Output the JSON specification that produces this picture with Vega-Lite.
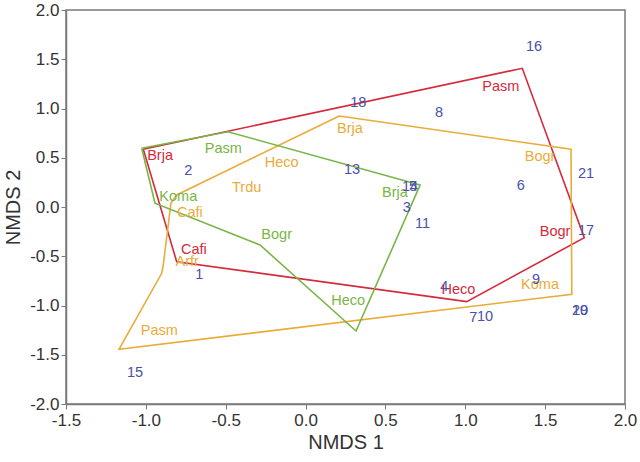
{
  "$schema": "https://vega.github.io/schema/vega-lite/v6.json",
  "width": 559,
  "height": 394,
  "autosize": {"type": "none"},
  "padding": {"left": 66, "top": 10, "right": 15, "bottom": 58},
  "background": "white",
  "config": {
    "view": {"stroke": "#7a7a7a", "strokeWidth": 1.5},
    "font": "Liberation Sans"
  },
  "datasets": {
    "hulls": [
      {"g": "red", "o": 1, "x": -1.016, "y": 0.586},
      {"g": "red", "o": 2, "x": 1.357, "y": 1.408},
      {"g": "red", "o": 3, "x": 1.745, "y": -0.312},
      {"g": "red", "o": 4, "x": 1.009, "y": -0.961},
      {"g": "red", "o": 5, "x": -0.807, "y": -0.555},
      {"g": "red", "o": 6, "x": -1.016, "y": 0.586},
      {"g": "orange", "o": 1, "x": 0.211, "y": 0.924},
      {"g": "orange", "o": 2, "x": -0.807, "y": 0.122},
      {"g": "orange", "o": 3, "x": -0.843, "y": 0.038},
      {"g": "orange", "o": 4, "x": -0.891, "y": -0.589},
      {"g": "orange", "o": 5, "x": -0.901, "y": -0.673},
      {"g": "orange", "o": 6, "x": -1.168, "y": -1.445},
      {"g": "orange", "o": 7, "x": 1.667, "y": -0.886},
      {"g": "orange", "o": 8, "x": 1.662, "y": 0.586},
      {"g": "orange", "o": 9, "x": 0.211, "y": 0.924},
      {"g": "green", "o": 1, "x": -1.026, "y": 0.596},
      {"g": "green", "o": 2, "x": -0.486, "y": 0.764},
      {"g": "green", "o": 3, "x": 0.717, "y": 0.223},
      {"g": "green", "o": 4, "x": 0.316, "y": -1.259},
      {"g": "green", "o": 5, "x": -0.285, "y": -0.386},
      {"g": "green", "o": 6, "x": -0.943, "y": 0.038},
      {"g": "green", "o": 7, "x": -1.026, "y": 0.596}
    ],
    "labels": [
      {"g": "red", "t": "Brja", "x": -0.911, "y": 0.518},
      {"g": "red", "t": "Pasm", "x": 1.222, "y": 1.215},
      {"g": "red", "t": "Cafi", "x": -0.699, "y": -0.437},
      {"g": "red", "t": "Bogr", "x": 1.562, "y": -0.251},
      {"g": "red", "t": "Heco", "x": 0.957, "y": -0.843},
      {"g": "orange", "t": "Brja", "x": 0.278, "y": 0.789},
      {"g": "orange", "t": "Heco", "x": -0.15, "y": 0.45},
      {"g": "orange", "t": "Trdu", "x": -0.369, "y": 0.19},
      {"g": "orange", "t": "Cafi", "x": -0.724, "y": -0.058},
      {"g": "orange", "t": "Arfr", "x": -0.741, "y": -0.555},
      {"g": "orange", "t": "Pasm", "x": -0.916, "y": -1.259},
      {"g": "orange", "t": "Bogr", "x": 1.468, "y": 0.511},
      {"g": "orange", "t": "Koma", "x": 1.468, "y": -0.792},
      {"g": "green", "t": "Pasm", "x": -0.515, "y": 0.586},
      {"g": "green", "t": "Koma", "x": -0.797, "y": 0.105},
      {"g": "green", "t": "Bogr", "x": -0.181, "y": -0.284},
      {"g": "green", "t": "Heco", "x": 0.267, "y": -0.951},
      {"g": "green", "t": "Brja", "x": 0.56, "y": 0.145},
      {"g": "blue", "t": "1", "x": -0.665, "y": -0.69},
      {"g": "blue", "t": "2", "x": -0.734, "y": 0.368},
      {"g": "blue", "t": "3", "x": 0.633, "y": -0.013},
      {"g": "blue", "t": "4", "x": 0.869, "y": -0.815},
      {"g": "blue", "t": "5", "x": 0.673, "y": 0.2},
      {"g": "blue", "t": "6", "x": 1.347, "y": 0.216},
      {"g": "blue", "t": "7", "x": 1.05, "y": -1.13},
      {"g": "blue", "t": "8", "x": 0.836, "y": 0.957},
      {"g": "blue", "t": "9", "x": 1.443, "y": -0.741},
      {"g": "blue", "t": "10", "x": 1.124, "y": -1.12},
      {"g": "blue", "t": "11", "x": 0.732, "y": -0.173},
      {"g": "blue", "t": "13", "x": 0.291, "y": 0.376},
      {"g": "blue", "t": "14", "x": 0.654, "y": 0.206},
      {"g": "blue", "t": "15", "x": -1.068, "y": -1.682},
      {"g": "blue", "t": "16", "x": 1.43, "y": 1.621},
      {"g": "blue", "t": "17", "x": 1.756, "y": -0.241},
      {"g": "blue", "t": "18", "x": 0.33, "y": 1.059},
      {"g": "blue", "t": "19", "x": 1.719, "y": -1.053},
      {"g": "blue", "t": "20", "x": 1.719, "y": -1.053},
      {"g": "blue", "t": "21", "x": 1.756, "y": 0.335}
    ]
  },
  "layer": [
    {
      "data": {"name": "hulls"},
      "mark": {"type": "line", "strokeWidth": 1.6},
      "encoding": {
        "x": {"field": "x", "type": "quantitative", "scale": {"domain": [-1.5, 2.0], "nice": false, "zero": false},
          "axis": {"title": "NMDS 1", "values": [-1.5, -1.0, -0.5, 0.0, 0.5, 1.0, 1.5, 2.0], "format": ".1f", "grid": false,
            "labelExpr": "replace(datum.label, '\u2212', '-')",
            "domainColor": "#7a7a7a", "domainWidth": 1.5, "tickColor": "#7a7a7a", "tickSize": 5, "tickWidth": 1,
            "labelFontSize": 17, "labelColor": "#333333", "labelPadding": 3, "labelFlush": false,
            "titleFontSize": 20, "titleFontWeight": "normal", "titleColor": "#333333", "titlePadding": 4}},
        "y": {"field": "y", "type": "quantitative", "scale": {"domain": [-2.0, 2.0], "nice": false, "zero": false},
          "axis": {"title": "NMDS 2", "values": [-2.0, -1.5, -1.0, -0.5, 0.0, 0.5, 1.0, 1.5, 2.0], "format": ".1f", "grid": false,
            "labelExpr": "replace(datum.label, '\u2212', '-')",
            "domainColor": "#7a7a7a", "domainWidth": 1.5, "tickColor": "#7a7a7a", "tickSize": 5, "tickWidth": 1,
            "labelFontSize": 17, "labelColor": "#333333", "labelPadding": 2, "labelFlush": false,
            "titleFontSize": 20, "titleFontWeight": "normal", "titleColor": "#333333", "titlePadding": 6}},
        "order": {"field": "o", "type": "quantitative"},
        "detail": {"field": "g"},
        "color": {"field": "g", "type": "nominal", "legend": null,
          "scale": {"domain": ["red", "orange", "green", "blue"], "range": ["#d42a3c", "#e9ac38", "#79b545", "#4a50a8"]}}
      }
    },
    {
      "data": {"name": "labels"},
      "mark": {"type": "text", "fontSize": 14.5, "align": "center", "baseline": "middle"},
      "encoding": {
        "x": {"field": "x", "type": "quantitative"},
        "y": {"field": "y", "type": "quantitative"},
        "text": {"field": "t"},
        "color": {"field": "g", "type": "nominal", "legend": null}
      }
    }
  ]
}
